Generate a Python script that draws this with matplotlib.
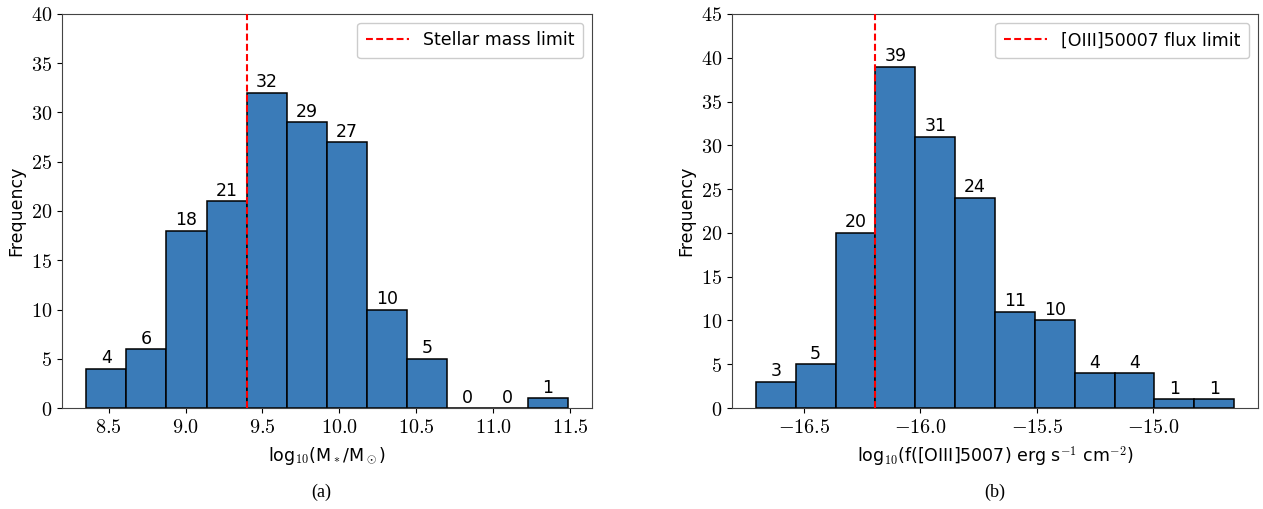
import matplotlib
matplotlib.use("Agg")
import matplotlib.pyplot as plt
import numpy as np
from matplotlib.ticker import FuncFormatter

# histogram counts
mass_counts = [4, 6, 18, 21, 32, 29, 27, 10, 5, 0, 0, 1]
mass_range = (8.353, 11.487)
mass_limit = 9.4

flux_counts = [3, 5, 20, 39, 31, 24, 11, 10, 4, 4, 1, 1]
flux_range = (-16.708, -14.651)
flux_limit = -16.194

mass_xticks = [8.5, 9.0, 9.5, 10.0, 10.5, 11.0, 11.5]
mass_yticks = [0, 5, 10, 15, 20, 25, 30, 35, 40]
flux_xticks = [-16.5, -16.0, -15.5, -15.0]
flux_yticks = [0, 5, 10, 15, 20, 25, 30, 35, 40, 45]

plt.rcParams["mathtext.fontset"] = "cm"
plt.rcParams["font.family"] = ["DejaVu Sans"]

BAR = "#3a7bb8"
W, H = 1263, 509


def float_fmt(x, pos):
    return f"${x:.1f}$"


def int_fmt(x, pos):
    return f"${int(round(x))}$"


def draw_hist(ax, counts, rng, limit, label, xticks, yticks, ymax, xlabel):
    edges = np.linspace(rng[0], rng[1], len(counts) + 1)
    width = edges[1] - edges[0]
    bars = ax.bar(edges[:-1], counts, width=width, align="edge",
                  color=BAR, edgecolor="black", linewidth=1.1, zorder=2)
    ax.bar_label(bars, labels=[str(c) for c in counts], padding=1, fontsize=12.5)
    ax.axvline(limit, color="red", linestyle=(0, (3.3, 1.6)), linewidth=1.5,
               label=label, zorder=3)
    ax.set_xticks(xticks)
    ax.set_yticks(yticks)
    ax.set_ylim(0, ymax)
    ax.xaxis.set_major_formatter(FuncFormatter(float_fmt))
    ax.yaxis.set_major_formatter(FuncFormatter(int_fmt))
    ax.tick_params(labelsize=14.5)
    ax.set_ylabel("Frequency", fontsize=12.5)
    ax.set_xlabel(xlabel, fontsize=12.5, labelpad=6)
    ax.legend(loc="upper right", fontsize=12.5, handlelength=2.5,
              borderpad=0.5, framealpha=1.0)
    for s in ax.spines.values():
        s.set_color("#444444")


fig = plt.figure(figsize=(W / 100, H / 100), dpi=100)
ax1 = fig.add_axes([62 / W, (H - 408) / H, (592 - 62) / W, (408 - 14) / H])
ax2 = fig.add_axes([732 / W, (H - 408) / H, (1258 - 732) / W, (408 - 14) / H])

draw_hist(ax1, mass_counts, mass_range, mass_limit, "Stellar mass limit",
          mass_xticks, mass_yticks, 40,
          r"log$_{10}$(M$_*$/M$_\odot$)")
draw_hist(ax2, flux_counts, flux_range, flux_limit, "[OIII]50007 flux limit",
          flux_xticks, flux_yticks, 45,
          r"log$_{10}$(f([OIII]5007) erg s$^{-1}$ cm$^{-2}$)")

fig.text(321 / W, 1 - 492 / H, "(a)", ha="center", va="center",
         family="Liberation Serif", fontsize=13)
fig.text(995 / W, 1 - 492 / H, "(b)", ha="center", va="center",
         family="Liberation Serif", fontsize=13)

fig.savefig("out.png", dpi=100)
